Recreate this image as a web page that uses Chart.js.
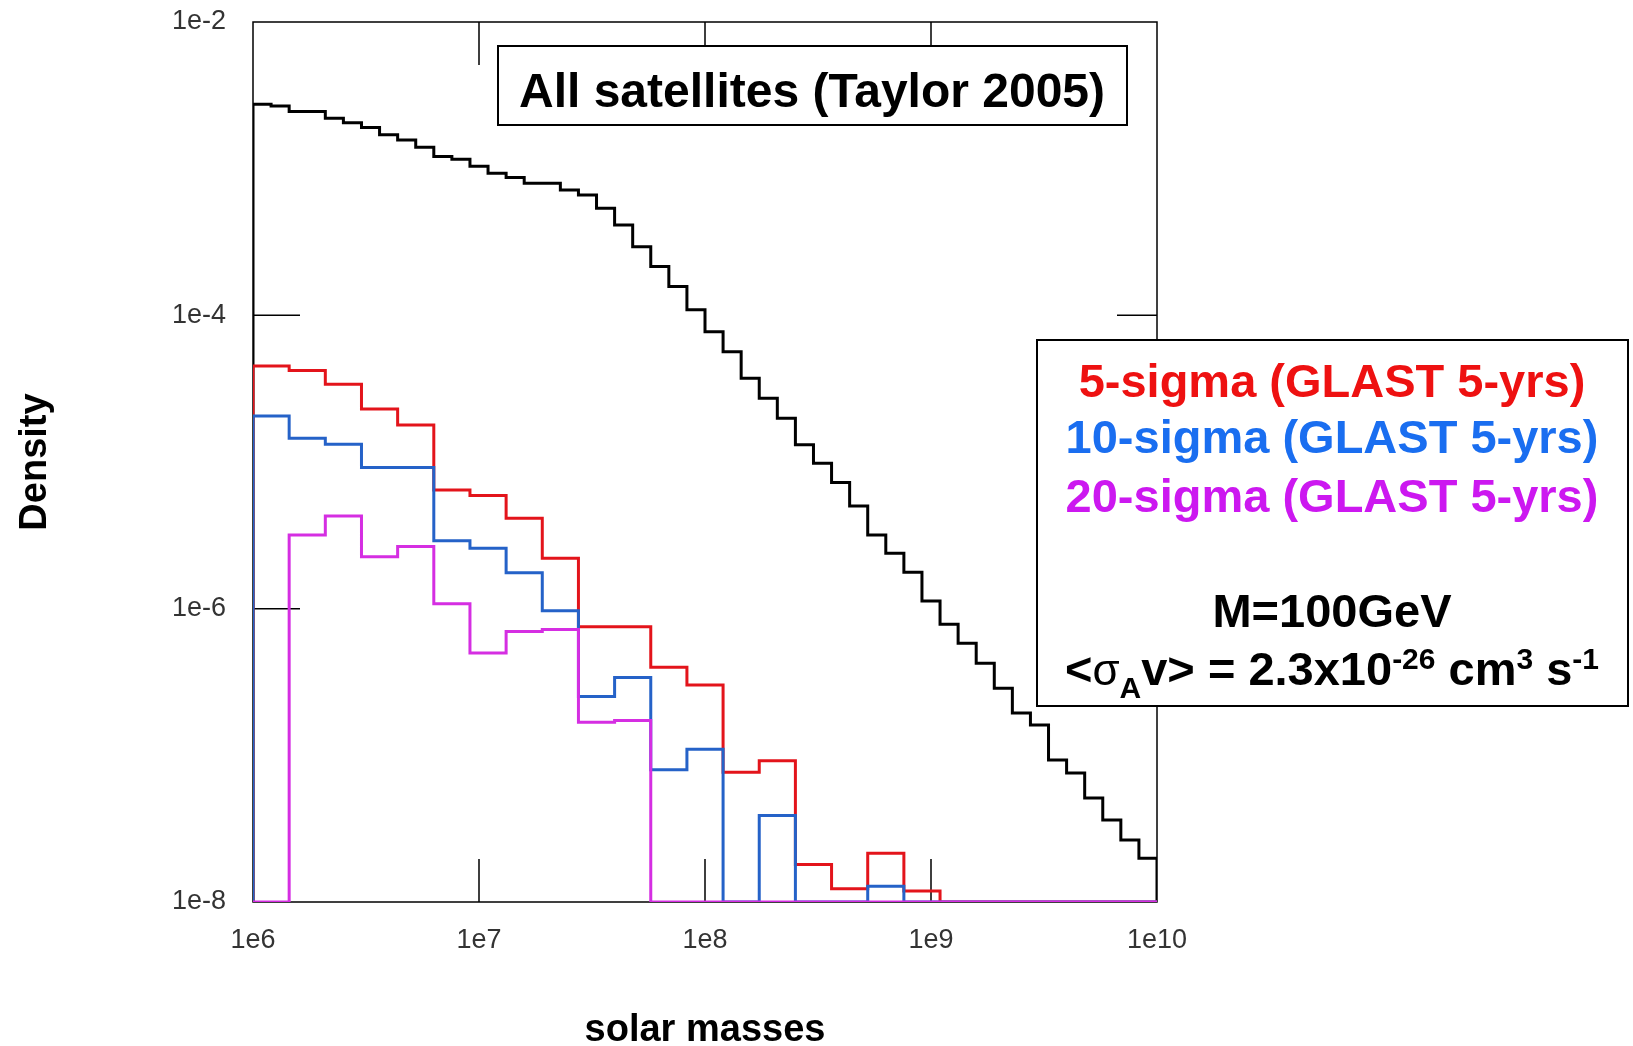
<!DOCTYPE html>
<html lang="en">
<head>
<meta charset="UTF-8" />
<title>Satellite mass function</title>
<script src="https://cdn.jsdelivr.net/npm/chart.js@4.4.1/dist/chart.umd.min.js"></script>
<style>
  html, body { margin: 0; padding: 0; background: #fff; overflow: hidden; }
  #wrap { width: 1633px; height: 1046px; position: relative; }
</style>
</head>
<body>
<div id="wrap"><canvas id="myChart"></canvas></div>
<script>
// histogram bins, in log10(solar masses)
const massStartLog = 6;
const allBinWidth = 0.08;   // black histogram: 50 bins
const detBinWidth = 0.16;   // detectable satellites: 25 bins

const allSatellites = [
  2.75e-3, 2.67e-3, 2.45e-3, 2.45e-3, 2.21e-3, 2.06e-3, 1.91e-3, 1.70e-3, 1.57e-3, 1.40e-3,
  1.21e-3, 1.16e-3, 1.04e-3, 9.31e-4, 8.69e-4, 7.94e-4, 7.94e-4, 7.16e-4, 6.62e-4, 5.37e-4,
  4.13e-4, 2.94e-4, 2.15e-4, 1.57e-4, 1.09e-4, 7.74e-5, 5.65e-5, 3.72e-5, 2.72e-5, 1.99e-5,
  1.31e-5, 9.80e-6, 7.24e-6, 5.02e-6, 3.18e-6, 2.39e-6, 1.77e-6, 1.13e-6, 7.82e-7, 5.82e-7,
  4.25e-7, 2.87e-7, 1.94e-7, 1.61e-7, 9.31e-8, 7.57e-8, 5.11e-8, 3.63e-8, 2.65e-8, 1.99e-8
];
const sigma5 = [
  4.52e-5, 4.20e-5, 3.39e-5, 2.30e-5, 1.79e-5, 6.45e-6, 5.90e-6, 4.14e-6, 2.21e-6, 7.52e-7,
  7.52e-7, 3.98e-7, 3.02e-7, 7.67e-8, 9.20e-8, 1.80e-8, 1.23e-8, 2.15e-8, 1.19e-8, 0,
  0, 0, 0, 0, 0
];
const sigma10 = [
  2.06e-5, 1.45e-5, 1.32e-5, 9.16e-6, 9.16e-6, 2.90e-6, 2.58e-6, 1.76e-6, 9.66e-7, 2.52e-7,
  3.40e-7, 7.96e-8, 1.10e-7, 0, 3.89e-8, 0, 0, 1.28e-8, 0, 0,
  0, 0, 0, 0, 0
];
const sigma20 = [
  0, 3.18e-6, 4.29e-6, 2.26e-6, 2.65e-6, 1.08e-6, 4.98e-7, 6.98e-7, 7.21e-7, 1.68e-7,
  1.73e-7, 0, 0, 0, 0, 0, 0, 0, 0, 0,
  0, 0, 0, 0, 0
];

const xTicks = [1e6, 1e7, 1e8, 1e9, 1e10];
const xTickLabels = ['1e6', '1e7', '1e8', '1e9', '1e10'];
const yTicks = [1e-2, 1e-4, 1e-6, 1e-8];
const yTickLabels = ['1e-2', '1e-4', '1e-6', '1e-8'];
const yFloor = 1e-8; // empty bins lie on the bottom axis

const titleText = 'All satellites (Taylor 2005)';
const legendLines = [
  { text: '5-sigma (GLAST 5-yrs)', color: '#ee1111' },
  { text: '10-sigma (GLAST 5-yrs)', color: '#1a6ef0' },
  { text: '20-sigma (GLAST 5-yrs)', color: '#cc18f0' },
  { text: 'M=100GeV', color: '#000' }
];

const FONT = "'Liberation Sans', Arial, Helvetica, sans-serif";

function histPoints(values, width) {
  const edge = i => Math.pow(10, massStartLog + i * width);
  const pts = [{ x: edge(0), y: yFloor }];
  values.forEach((v, i) => pts.push({ x: edge(i), y: v > 0 ? v : yFloor }));
  const last = values[values.length - 1];
  pts.push({ x: edge(values.length), y: last > 0 ? last : yFloor });
  pts.push({ x: edge(values.length), y: yFloor });
  return pts;
}

function lineSet(label, values, width, color, order) {
  return {
    label: label,
    data: histPoints(values, width),
    borderColor: color,
    borderWidth: 3,
    stepped: 'before',
    fill: false,
    pointRadius: 0,
    order: order
  };
}

const framePlugin = {
  id: 'frame',
  beforeDatasetsDraw(chart) {
    const { ctx, chartArea: a, scales: { x, y } } = chart;
    ctx.save();
    ctx.strokeStyle = '#000';
    ctx.lineWidth = 1.5;
    ctx.strokeRect(a.left, a.top, a.right - a.left, a.bottom - a.top);
    ctx.beginPath();
    y.ticks.forEach(t => {
      const py = y.getPixelForValue(t.value);
      if (py > a.top + 2 && py < a.bottom - 2) {
        ctx.moveTo(a.left, py); ctx.lineTo(a.left + 47, py);
        ctx.moveTo(a.right, py); ctx.lineTo(a.right - 40, py);
      }
    });
    x.ticks.forEach(t => {
      const px = x.getPixelForValue(t.value);
      if (px > a.left + 2 && px < a.right - 2) {
        ctx.moveTo(px, a.bottom); ctx.lineTo(px, a.bottom - 43);
        ctx.moveTo(px, a.top); ctx.lineTo(px, a.top + 43);
      }
    });
    ctx.stroke();
    ctx.restore();
  },
  afterDraw(chart) {
    const ctx = chart.ctx;
    ctx.save();
    ctx.lineWidth = 2;
    ctx.strokeStyle = '#000';
    ctx.fillStyle = '#fff';

    // title box
    ctx.fillRect(498, 46, 629, 79);
    ctx.strokeRect(498, 46, 629, 79);
    ctx.fillStyle = '#000';
    ctx.textAlign = 'center';
    ctx.textBaseline = 'alphabetic';
    ctx.font = 'bold 48px ' + FONT;
    ctx.fillText(titleText, 812, 107);

    // legend box
    ctx.fillStyle = '#fff';
    ctx.fillRect(1037, 340, 591, 366);
    ctx.strokeRect(1037, 340, 591, 366);
    const cx = 1332;
    const baselines = [397, 453, 512, 627];
    ctx.font = 'bold 47px ' + FONT;
    legendLines.forEach((l, i) => {
      ctx.fillStyle = l.color;
      ctx.fillText(l.text, cx, baselines[i]);
    });

    // <sigma_A v> = 2.3x10^-26 cm^3 s^-1
    const parts = [
      { t: '<', f: 'bold 47px ' + FONT, dy: 0 },
      { t: 'σ', f: '44px ' + FONT, dy: 0 },
      { t: 'A', f: 'bold 30px ' + FONT, dy: 13 },
      { t: 'v> = 2.3x10', f: 'bold 47px ' + FONT, dy: 0 },
      { t: '-26', f: 'bold 30px ' + FONT, dy: -16 },
      { t: ' cm', f: 'bold 47px ' + FONT, dy: 0 },
      { t: '3', f: 'bold 30px ' + FONT, dy: -16 },
      { t: ' s', f: 'bold 47px ' + FONT, dy: 0 },
      { t: '-1', f: 'bold 30px ' + FONT, dy: -16 }
    ];
    let total = 0;
    parts.forEach(p => { ctx.font = p.f; p.w = ctx.measureText(p.t).width; total += p.w; });
    let px = cx - total / 2;
    ctx.textAlign = 'left';
    ctx.fillStyle = '#000';
    parts.forEach(p => {
      ctx.font = p.f;
      ctx.fillText(p.t, px, 685 + p.dy);
      px += p.w;
    });
    ctx.restore();
  }
};

const ctx = document.getElementById('myChart').getContext('2d');
const myChart = new Chart(ctx, {
  type: 'line',
  data: {
    datasets: [
      lineSet('All satellites', allSatellites, allBinWidth, '#000000', 4),
      lineSet('5-sigma', sigma5, detBinWidth, '#e3141b', 3),
      lineSet('10-sigma', sigma10, detBinWidth, '#2562c8', 2),
      lineSet('20-sigma', sigma20, detBinWidth, '#d52ee2', 1)
    ]
  },
  options: {
    responsive: true,
    maintainAspectRatio: false,
    animation: false,
    layout: { padding: { left: 0, top: 22, right: 476, bottom: 0 } },
    plugins: { legend: { display: false }, tooltip: { enabled: false } },
    elements: { line: { tension: 0, borderJoinStyle: 'miter', borderCapStyle: 'butt' } },
    scales: {
      x: {
        type: 'logarithmic',
        min: 1e6,
        max: 1e10,
        grid: { display: false, drawTicks: false },
        border: { display: false },
        afterBuildTicks: s => { s.ticks = xTicks.map(v => ({ value: v })); },
        afterFit: s => { s.height = 144; },
        ticks: {
          autoSkip: false,
          maxRotation: 0,
          padding: 22,
          color: '#333',
          font: { family: FONT, size: 27 },
          callback: (v, i) => xTickLabels[i]
        },
        title: {
          display: true,
          text: 'solar masses',
          color: '#000',
          padding: { top: 0, bottom: 0 },
          font: { family: FONT, size: 38, weight: 'bold', lineHeight: 0.8 }
        }
      },
      y: {
        type: 'logarithmic',
        min: 1e-8,
        max: 1e-2,
        grid: { display: false, drawTicks: false },
        border: { display: false },
        afterBuildTicks: s => { s.ticks = yTicks.map(v => ({ value: v })); },
        // fixed axis width; drop the label overhang so the plot top stays at 22px
        afterFit: s => { s.width = 253; s.paddingTop = 0; s.paddingBottom = 0; },
        ticks: {
          autoSkip: false,
          padding: 27,
          color: '#333',
          font: { family: FONT, size: 27 },
          callback: (v, i) => yTickLabels[i]
        },
        title: {
          display: true,
          text: 'Density',
          color: '#000',
          padding: { top: 20, bottom: 0 },
          font: { family: FONT, size: 38, weight: 'bold', lineHeight: 0.8 }
        }
      }
    }
  },
  plugins: [framePlugin]
});
</script>
</body>
</html>
